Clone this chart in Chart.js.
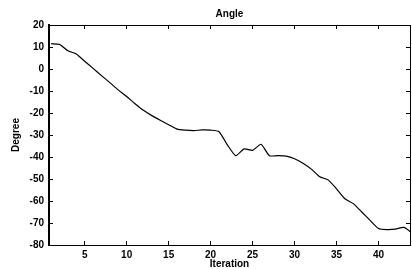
<!DOCTYPE html>
<html>
<head>
<meta charset="utf-8">
<script src="https://cdn.jsdelivr.net/npm/chart.js@4.4.1/dist/chart.umd.min.js"></script>
<style>
  html, body { margin: 0; padding: 0; background: #fff; }
  #wrap { width: 412px; height: 269px; }
</style>
</head>
<body>
<div id="wrap"><canvas id="angleChart"></canvas></div>
<script>
// values
const iterations = [1, 2, 3, 4, 5, 6, 7, 8, 9, 10, 11, 12, 13, 14, 15, 16, 17, 18, 19, 20, 21, 22,
    23, 24, 25, 26, 27, 28, 29, 30, 31, 32, 33, 34, 35, 36, 37, 38, 39, 40, 41, 42, 43, 44];
const angleDeg = [11.5, 11.2, 8.3, 6.8, 3.5, 0.3, -3, -6.2, -9.5, -12.5, -15.8, -18.8, -21.2, -23.3,
    -25.3, -27.3, -27.8, -28, -27.7, -27.8, -28.5, -34.5, -39.4, -36.3, -37, -34.2, -39.4, -39.4,
    -39.6, -40.8, -42.8, -45.5, -49, -50.4, -54.5, -59, -61.2, -65, -68.8, -72.5, -73, -72.8, -72, -74.5];
const xTicks = [5, 10, 15, 20, 25, 30, 35, 40];
const yTicks = [20, 10, 0, -10, -20, -30, -40, -50, -60, -70, -80];

const font = { family: "'Liberation Sans', Arial, sans-serif", size: 10, weight: 'bold' };

// inward tick marks, no grid inside the plot (matlab look)
const tickMarks = { display: true, drawOnChartArea: false, drawTicks: true, tickLength: -4, color: '#000', lineWidth: 1 };

new Chart(document.getElementById('angleChart'), {
    type: 'line',
    data: {
        datasets: [{
            data: iterations.map((it, i) => ({ x: it, y: angleDeg[i] })),
            borderColor: '#000',
            borderWidth: 1.2,
            pointRadius: 0,
            tension: 0.2,
            fill: false
        }]
    },
    options: {
        responsive: true,
        maintainAspectRatio: false,
        animation: false,
        layout: { padding: { left: 0, right: 2, top: 0, bottom: 0 } },
        plugins: {
            legend: { display: false },
            tooltip: { enabled: false },
            title: {
                display: true,
                text: 'Angle',
                color: '#000',
                font: font,
                fullSize: false,
                padding: { top: 8, bottom: 5 }
            }
        },
        scales: {
            x: {
                type: 'linear',
                min: 0.75,
                max: 43.75,
                afterBuildTicks: s => { s.ticks = xTicks.map(v => ({ value: v })); },
                afterFit: s => { s.height = 24; },
                grid: tickMarks,
                border: { display: true, color: '#000', width: 1 },
                ticks: { color: '#000', font: font, padding: 8, maxRotation: 0, autoSkip: false },
                title: {
                    display: true,
                    text: 'Iteration',
                    color: '#000',
                    font: { ...font, lineHeight: 1 },
                    padding: { top: 0, bottom: 0 }
                }
            },
            xTop: {
                type: 'linear',
                position: 'top',
                min: 0.75,
                max: 43.75,
                afterBuildTicks: s => { s.ticks = xTicks.map(v => ({ value: v })); },
                afterFit: s => { s.height = 0; },
                grid: tickMarks,
                border: { display: true, color: '#000', width: 1 },
                ticks: { display: false }
            },
            y: {
                min: -80,
                max: 20,
                afterBuildTicks: s => { s.ticks = yTicks.map(v => ({ value: v })); },
                afterFit: s => { s.width = 49; },
                grid: tickMarks,
                border: { display: true, color: '#000', width: 2 },
                ticks: { color: '#000', font: font, padding: 9, autoSkip: false },
                title: {
                    display: true,
                    text: 'Degree',
                    color: '#000',
                    font: font,
                    padding: { top: 10, bottom: 0 }
                }
            },
            yRight: {
                position: 'right',
                min: -80,
                max: 20,
                afterBuildTicks: s => { s.ticks = yTicks.map(v => ({ value: v })); },
                afterFit: s => { s.width = 0; },
                grid: tickMarks,
                border: { display: true, color: '#000', width: 1 },
                ticks: { display: false }
            }
        }
    }
});
</script>
</body>
</html>
